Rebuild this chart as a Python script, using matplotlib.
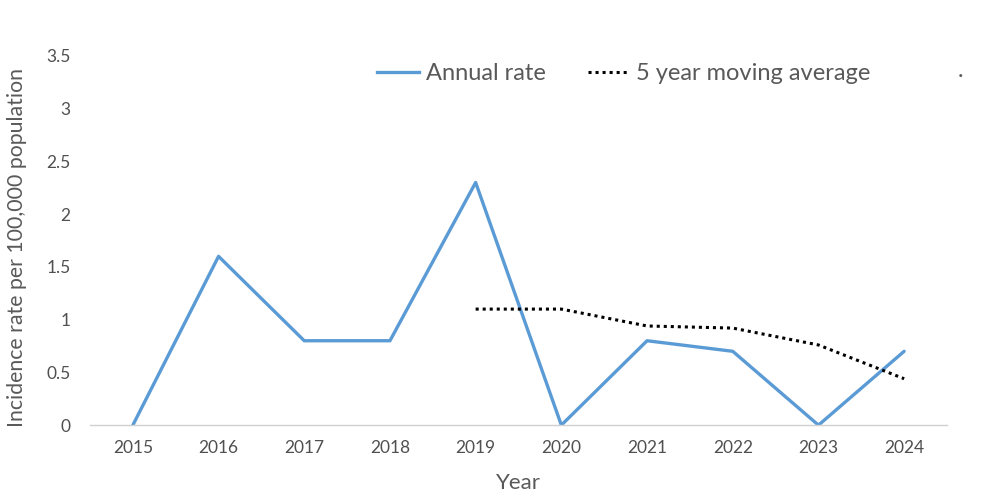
import matplotlib
matplotlib.use('Agg')
import matplotlib.pyplot as plt
from matplotlib.lines import Line2D

years = ['2015', '2016', '2017', '2018', '2019', '2020', '2021', '2022', '2023', '2024']
annual_rate = [0, 1.6, 0.8, 0.8, 2.3, 0, 0.8, 0.7, 0, 0.7]
ma_years = ['2019', '2020', '2021', '2022', '2023', '2024']
moving_avg = [1.1, 1.1, 0.94, 0.92, 0.76, 0.44]

plt.rcParams['font.family'] = ['Lato', 'DejaVu Sans']
grey = '#595959'
blue = '#5b9bd5'
dots = (0, (1, 1.3))

fig = plt.figure(figsize=(10, 4.99), dpi=100)
ax = fig.add_axes([0.09, 0.148, 0.857, 0.74])

x = list(range(len(years)))
ma_x = [years.index(y) for y in ma_years]
ax.plot(x, annual_rate, color=blue, lw=2.4, solid_capstyle='round')
ax.plot(ma_x, moving_avg, color='black', lw=2.2, linestyle=dots)

ax.set_xlim(-0.5, len(years) - 0.5)
ax.set_ylim(0, 3.5)
ax.set_xticks(x)
ax.set_xticklabels(years)
ax.set_yticks([0, 0.5, 1, 1.5, 2, 2.5, 3, 3.5])
ax.set_yticklabels(['0', '0.5', '1', '1.5', '2', '2.5', '3', '3.5'])
ax.tick_params(axis='both', length=0, labelsize=12.5, labelcolor='#505050')
ax.tick_params(axis='x', pad=11)
ax.tick_params(axis='y', pad=14)

for s in ['top', 'right', 'left']:
    ax.spines[s].set_visible(False)
ax.spines['bottom'].set_color('#d0d0d0')
ax.spines['bottom'].set_linewidth(1)

ax.set_xlabel('Year', fontsize=16, color=grey, labelpad=12)
ax.set_ylabel('Incidence rate per 100,000 population', fontsize=15.3, color=grey)
ax.yaxis.set_label_coords(-0.073, 0.48)

handles = [Line2D([], [], color=blue, lw=2.4),
           Line2D([], [], color='black', lw=2.2, linestyle=dots)]
fig.legend(handles, ['Annual rate', '5 year moving average'],
           loc='center left', bbox_to_anchor=(0.356, 0.852), ncol=2, frameon=False,
           fontsize=17, labelcolor=grey, handlelength=1.75, handletextpad=0.3,
           columnspacing=1.8)
fig.text(0.958, 0.846, '.', fontsize=17, color=grey)

fig.savefig('out.png', dpi=100)
